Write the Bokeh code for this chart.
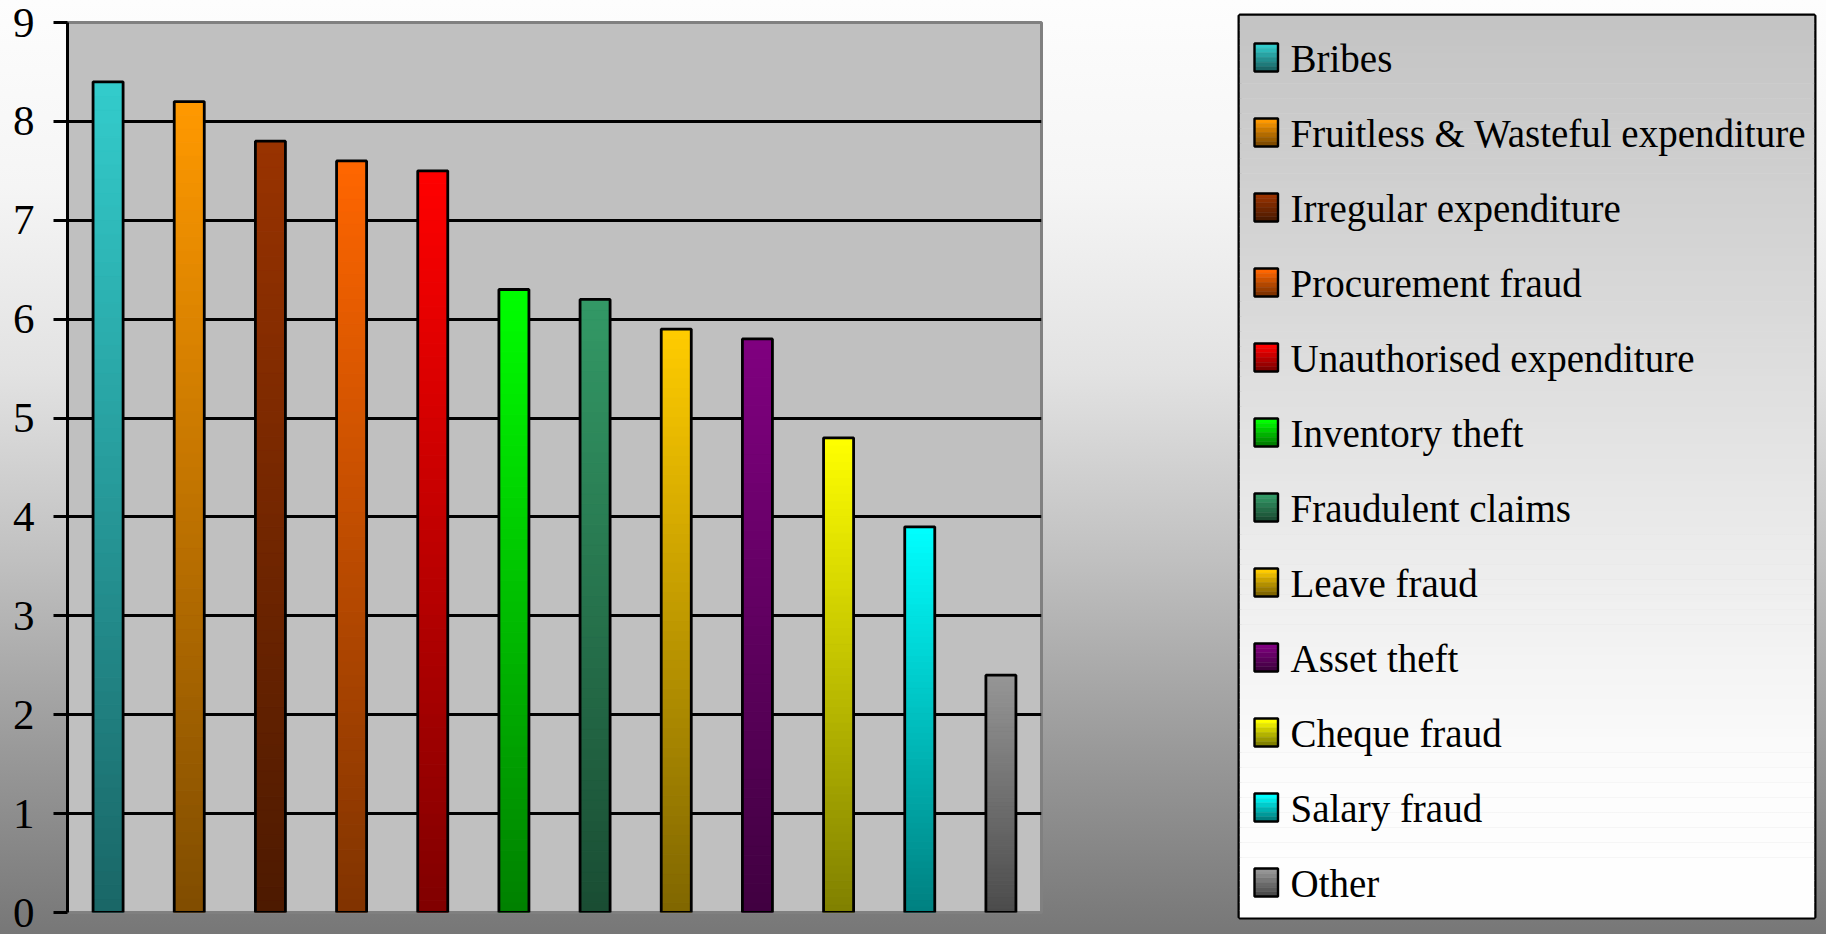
import numpy as np
from bokeh.plotting import figure
from bokeh.models import FactorRange, Range1d, FixedTicker, ColumnDataSource
from bokeh.layouts import row
from bokeh.embed import file_html
from bokeh.resources import INLINE
from bokeh.core.properties import value

# ---------------- data ----------------
categories = ["Bribes", "Fruitless & Wasteful expenditure", "Irregular expenditure",
              "Procurement fraud", "Unauthorised expenditure", "Inventory theft",
              "Fraudulent claims", "Leave fraud", "Asset theft", "Cheque fraud",
              "Salary fraud", "Other"]
values = [8.4, 8.2, 7.8, 7.6, 7.5, 6.3, 6.2, 5.9, 5.8, 4.8, 3.9, 2.4]
colors = ["#33CCCC", "#FF9900", "#993300", "#FF6600", "#FF0000", "#00FF00",
          "#339966", "#FFCC00", "#800080", "#FFFF00", "#00FFFF", "#969696"]
y_ticks = [0, 1, 2, 3, 4, 5, 6, 7, 8, 9]
grid_ticks = [1, 2, 3, 4, 5, 6, 7, 8]

FONT = "Liberation Serif"


def shade(hexc, f):
    h = hexc.lstrip("#")
    r, g, b = (int(h[i:i + 2], 16) for i in (0, 2, 4))
    return "#%02x%02x%02x" % (int(round(r * f)), int(round(g * f)), int(round(b * f)))


# ---------------- main chart ----------------
p = figure(x_range=FactorRange(*categories), y_range=Range1d(0, 9),
           width=1236, height=934, x_axis_location=None, title=None,
           output_backend="svg", toolbar_location=None,
           min_border_left=67, min_border_right=195,
           min_border_top=22, min_border_bottom=22)
p.frame_align = False
p.border_fill_alpha = 0
p.background_fill_color = "#c0c0c0"
p.outline_line_color = "#808080"
p.outline_line_width = 3

p.xgrid.visible = False
p.ygrid.ticker = FixedTicker(ticks=grid_ticks)
p.ygrid.grid_line_color = "black"
p.ygrid.grid_line_width = 3

ax = p.yaxis[0]
ax.ticker = FixedTicker(ticks=y_ticks)
ax.minor_tick_line_color = None
ax.major_tick_in = 0
ax.major_tick_out = 14
ax.major_tick_line_width = 3
ax.major_tick_line_color = "black"
ax.axis_line_width = 3
ax.axis_line_color = "black"
ax.major_label_text_font = FONT
ax.major_label_text_font_size = "43px"
ax.major_label_text_color = "black"
ax.major_label_standoff = 19

# gradient bars: stack thin slices from dark (bottom) to the full colour (top)
N = 60
seg = dict(x=[], bottom=[], top=[], fill=[])
for cat, v, c in zip(categories, values, colors):
    for k in range(N):
        seg["x"].append(cat)
        seg["bottom"].append(v * k / N)
        seg["top"].append(v * (k + 1) / N)
        seg["fill"].append(shade(c, 0.5 + 0.5 * (k + 0.5) / N))
p.vbar(x="x", bottom="bottom", top="top", width=0.37, fill_color="fill",
       line_color="fill", line_width=1, source=ColumnDataSource(seg))
p.vbar(x=categories, top=values, width=0.37, fill_alpha=0,
       line_color="black", line_width=2.8)

# ---------------- legend panel ----------------
FW, FH = 575, 902           # legend frame size in px
pl = figure(width=590, height=934, x_range=Range1d(0, FW), y_range=Range1d(FH, 0),
            x_axis_location=None, y_axis_location=None, title=None,
            output_backend="svg", toolbar_location=None,
            min_border_left=3, min_border_right=12,
            min_border_top=15, min_border_bottom=17)
pl.frame_align = False
pl.grid.visible = False
pl.background_fill_alpha = 0
pl.border_fill_alpha = 0
pl.outline_line_color = "black"
pl.outline_line_width = 4

# legend box background: vertical gradient grey (top) -> white (bottom)
stops_pos = [0.0, 0.33, 0.65, 0.85, 1.0]
stops_val = [196, 218, 240, 253, 255]
NS = 120
ys = np.linspace(0, FH, NS + 1)
mid = (ys[:-1] + ys[1:]) / 2 / FH
gv = np.interp(mid, stops_pos, stops_val)
pl.quad(left=0, right=FW, top=ys[:-1], bottom=ys[1:] + 0.5,
        fill_color=["#%02x%02x%02x" % (int(g), int(g), int(g)) for g in gv],
        line_color=None)

row_c = [43 + 75 * i for i in range(len(categories))]
NB = 6
bands = dict(left=[], right=[], top=[], bottom=[], fill=[])
for yc, c in zip(row_c, colors):
    y0 = yc - 15
    for b in range(NB):
        bands["left"].append(15)
        bands["right"].append(38.5)
        bands["top"].append(y0 + b * 28 / NB)
        bands["bottom"].append(y0 + (b + 1) * 28 / NB)
        bands["fill"].append(shade(c, 1 - 0.5 * b / (NB - 1)))
pl.quad(left="left", right="right", top="top", bottom="bottom", fill_color="fill",
        line_color="fill", line_width=0.5, source=ColumnDataSource(bands))
pl.quad(left=15, right=38.5, top=[yc - 15 for yc in row_c],
        bottom=[yc + 13 for yc in row_c], fill_alpha=0,
        line_color="black", line_width=2.4)
pl.text(x=51, y=row_c, text=categories,
        text_font=value(FONT), text_font_size="39px",
        text_baseline="middle", text_align="left", text_color="black")

layout = row(p, pl, styles={"background": "linear-gradient(to bottom, #fdfdfd 0%, "
                                          "#f5f5f5 20%, #e2e2e2 40%, #c0c0c0 60%, "
                                          "#9a9a9a 80%, #777777 100%)"})

open("out.html", "w").write(file_html(layout, INLINE))
